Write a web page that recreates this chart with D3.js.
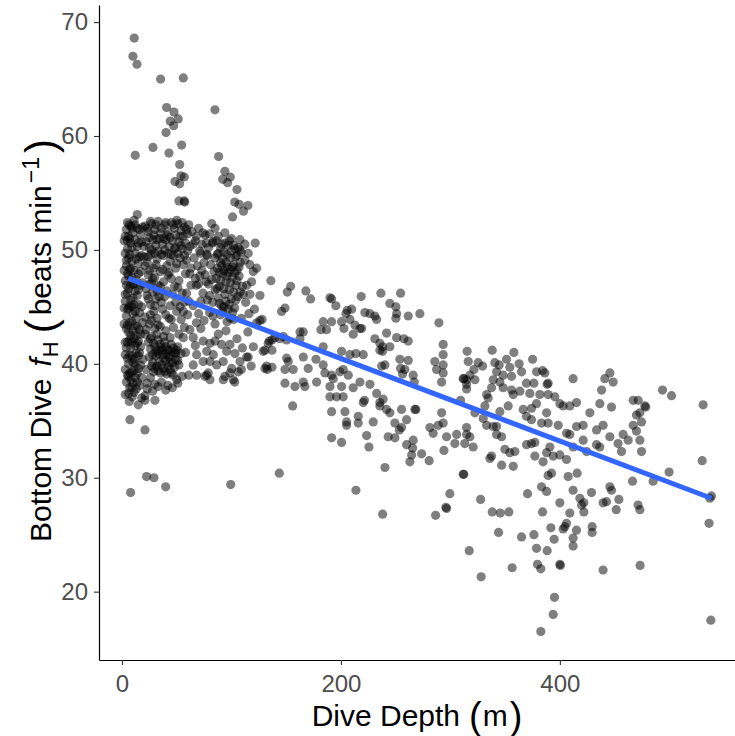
<!DOCTYPE html>
<html>
<head>
<meta charset="utf-8">
<script src="https://cdn.jsdelivr.net/npm/d3@7"></script>
<style>
  body { margin: 0; background: #fff; }
  svg { font-family: "Liberation Sans", Arial, sans-serif; }
  .tick text { fill: #4d4d4d; font-size: 24px; }
  .tick line { stroke: #333; stroke-width: 1.1; }
  .domain { stroke: #000; stroke-width: 1.2; }
</style>
</head>
<body>
<svg width="735" height="736"></svg>
<script>
// [dive depth (m), bottom dive heart rate (beats/min)]
var shallowTop = [[11.2,68.6],[10.0,67.0],[13.7,66.3],[35.3,65.0],[56.0,65.1],[40.8,62.5],[47.5,62.1],[51.4,61.5],[44.1,61.3],[47.2,60.9],[40.2,60.3],[84.9,62.3],[12.1,58.3],[28.3,59.0],[42.9,58.5],[54.5,59.2],[88.3,58.2],[52.7,57.5],[53.9,56.5],[56.9,56.4],[48.4,56.0],[52.7,55.8],[94.0,56.9],[92.0,56.2],[98.9,56.4],[96.5,55.9],[105.0,55.3],[52.0,54.3],[56.8,54.3],[57.3,54.2],[103.0,54.2],[107.0,54.0],[115.0,53.9],[101.0,52.9],[111.0,53.4],[14.0,53.1],[6.4,52.2]];

var shallowLow = [[7.3,35.1],[21.0,34.2],[22.5,30.1],[29.2,30.0],[39.9,29.2],[7.9,28.7],[99.3,29.4],[6.7,36.7],[14.9,36.4],[21.0,36.8],[30.1,36.8],[9.4,37.1],[21.0,37.2],[23,38.3],[28,37.6],[33,38.0],[40,37.7],[46,37.9],[51,38.3]];

var shallowLeft = [[4,51.8],[6,51.2],[8,50.6],[5,50.1],[10,51.5],[12,50.9],[7,49.6],[14,50.3],[9,49.0],[4,48.6],[11,48.2],[16,49.4],[6,47.7],[13,47.4],[8,46.9],[17,48.1],[5,46.2],[10,45.8],[15,46.5],[7,45.1],[12,44.6],[4,44.2],[9,43.7],[14,43.3],[6,42.8],[11,42.2],[3,41.9],[8,41.4],[13,40.9],[5,40.5],[10,40.1],[15,39.6],[7,39.2],[12,38.8],[4,38.4],[9,37.9],[16,38.1],[6,37.4],[18,37.0],[3,47.3],[18,45.0],[17,42.6],[19,40.4],[2,43.5],[16,51.8],[18,50.7],[3,49.7],[19,47.1],[5,52.4],[8,52.1],[11,52.6],[14,51.9],[7,51.0],[13,49.2],[10,47.0],[6,44.9],[14,41.8],[11,39.4],
  [3,45.5],[5,44.8],[8,45.6],[11,45.2],[13,44.0],[16,44.5],[4,43.1],[7,42.1],[10,42.9],[12,41.6],[15,42.0],[3,40.8],[6,40.0],[9,40.7],[11,40.4],[14,39.2],[17,39.9],[5,39.0],[8,38.6],[10,38.3],[13,37.8],[3,37.3],[7,37.9],[12,46.4],[9,47.6],[15,47.9],[4,46.9],[7,43.6],[16,41.0],[19,43.6],
  [2,48.2],[5,47.9],[8,48.4],[11,47.0],[14,46.0],[17,46.9],[3,46.1],[6,46.6],[9,45.0],[12,43.3],[15,45.2],[2,44.9],[5,43.4],[8,42.5],[10,44.4],[13,42.5],[16,43.0],[4,41.4],[7,40.7],[9,41.9],[12,40.0],[15,40.7],[3,39.5],[6,38.9],[9,39.3],[11,37.5],[14,38.4],[5,41.9],[17,41.5],[18,38.8]];

var shallowMid = [[21,52.1],[24,51.6],[27,52.3],[30,51.8],[33,52.5],[36,51.9],[39,52.2],[42,51.6],[45,52.4],[48,51.9],[51,52.3],[54,51.7],[57,52.0],[60,51.4],[22,50.7],[25,50.2],[28,50.9],[31,50.4],[34,51.0],[37,50.5],[40,50.9],[43,50.3],[46,50.8],[49,50.2],[52,50.7],[55,50.1],[58,50.6],[20,49.4],[23,48.9],[26,49.6],[32,49.2],[38,49.5],[44,49.0],[47,49.5],[50,48.8],[53,49.3],[56,48.7],[59,49.1],[62,50.3],[29,48.4],[35,48.1],[41,48.6],
  [3,51.2],[5,50.8],[9,51.9],[12,52.2],[15,50.6],[17,51.3],[19,52.0],[20,50.3],[23,51.9],[25,51.1],[26,52.5],[29,51.3],[31,52.2],[32,50.9],[35,51.5],[38,51.0],[40,52.4],[41,51.3],[44,51.1],[47,52.2],[49,51.3],[50,52.6],[53,51.2],[55,52.4],[56,51.2],[59,51.8],[61,52.2],[6,49.3],[9,50.2],[12,49.7],[15,48.8],[18,49.5],[21,48.6],[24,49.4],[27,50.0],[30,49.7],[33,49.9],[36,49.6],[39,50.0],[42,49.7],[45,49.6],[48,50.1],[51,49.7],[54,50.4],[57,49.5],[60,49.9],[25,48.2],[31,48.7],[37,48.3],[43,48.0],[49,48.4],[2,50.8],[4,49.1],[7,48.3],
  [24,47.8],[27,47.1],[30,47.6],[33,46.9],[28,46.3],[31,45.7],[26,45.2],[34,45.9],[29,44.6],[32,44.0],[25,43.5],[35,43.3],[38,47.2],[41,46.4],[37,44.8],[22,46.6],[45,47.5],[48,46.8],[52,47.3],[55,46.2],[58,47.9],[44,45.1],[50,44.6],[54,43.9],[57,45.4],[47,43.2],[60,44.3],[21,44.1],[40,42.9],[63,46.9],
  [23,46.0],[25,47.0],[26,44.3],[28,47.5],[30,45.1],[32,46.4],[33,43.4],[35,46.8],[36,45.4],[27,43.8],[30,43.1],[39,45.9],[40,44.3],[42,47.8],[43,44.0],[46,46.1],[49,45.4],[51,46.7],[53,45.0],[56,44.6],[59,46.2],[61,45.5],[52,42.6],[57,43.2],[45,43.9],[24,45.7],[22,43.0],
  [21,42.6],[24,41.9],[27,42.4],[30,41.5],[33,42.1],[36,41.4],[39,41.9],[42,41.2],[45,41.7],[48,41.0],[51,41.5],[25,40.6],[28,40.1],[31,40.7],[34,40.2],[37,40.8],[40,40.3],[43,40.6],[46,40.1],[49,40.4],[52,39.9],[29,39.3],[32,39.8],[35,39.2],[38,39.6],[41,39.1],[44,39.5],[47,39.0],[22,39.5],[26,38.8],[36,38.4],[50,38.6],[54,40.9],[56,42.3],[23,37.8],[30,38.2],[42,38.1],[55,38.9],
  [26,41.3],[29,41.8],[31,41.1],[33,40.9],[35,41.7],[37,41.2],[38,40.5],[40,41.5],[41,40.8],[43,41.2],[44,40.1],[45,40.8],[47,41.4],[48,39.7],[49,40.9],[50,41.2],[51,40.3],[27,39.8],[30,39.6],[33,39.4],[36,39.9],[39,39.3],[42,39.8],[45,39.2],[34,41.2],[28,40.8],[32,42.6],[44,42.3],[38,42.4],[26,42.2]];

var shallowRight = [[64,51.6],[67,50.8],[70,51.9],[73,50.5],[76,51.3],[79,50.2],[88,51.2],[91,50.5],[94,51.5],[97,50.4],[100,51.0],[103,50.1],[66,49.3],[69,48.6],[72,49.7],[75,48.9],[78,49.5],[81,48.7],[84,48.1],[87,49.6],[90,48.9],[93,49.8],[96,48.5],[99,49.3],[102,48.7],[105,49.5],[108,48.9],[86,47.5],[89,46.8],[92,47.9],[95,47.2],[98,46.5],[101,47.6],[104,46.9],[107,47.7],[88,45.8],[91,45.1],[94,46.1],[97,44.8],[100,45.7],[103,44.9],[106,45.9],[90,44.3],[96,43.7],[102,43.9],[68,46.9],[71,47.7],[74,46.2],[77,47.2],[80,46.0],[83,45.4],[65,45.1],[70,44.4],[75,43.8],[80,44.5],[85,43.5],[62,43.0],[110,46.8],[113,45.4],[109,44.0],[116,44.4],[82,52.3],[85,51.9],[62,47.9],
  [86,50.8],[88,49.7],[90,50.2],[92,49.2],[94,50.6],[96,49.6],[98,50.8],[100,49.9],[102,50.4],[104,49.4],[106,50.2],[109,49.8],[87,48.4],[89,48.0],[91,48.6],[93,48.2],[95,48.9],[97,48.0],[99,48.3],[101,48.5],[103,48.0],[105,48.2],[107,48.5],[87,46.6],[90,47.3],[93,46.6],[96,47.7],[99,47.1],[102,46.3],[105,47.3],[108,46.3],[89,45.3],[92,44.6],[95,45.5],[98,45.2],[101,44.5],[104,45.6],[99,44.0],[93,45.0],[65,50.5],[68,51.2],[71,49.9],[74,51.5],[77,50.6],[80,51.4],[83,50.7],[63,48.4],[67,47.5],[70,47.0],[73,48.2],[76,47.8],[79,47.0],[82,47.4],[85,46.5],[72,45.5],[78,45.6],[83,44.2],[68,43.6],
  [88,42.6],[95,42.9],[105,42.2],[110,41.4],[85,42.0],[72,43.1],[67,41.6],[58,41.0],[61,39.0],[115,42.8],[120,41.5],[118,39.8],
  [107.8,50.9],[112.3,50.5],[121.7,50.6],[107.8,50.0],[115.3,49.7],[112.3,49.1],[82.8,50.6],[77.4,49.6],[84.9,49.3],[116.9,48.7],[119.9,48.1],[118.4,47.2],[113.9,46.9],[116.9,46.1],[110.8,46.1],[123,48.4],[126,46.0],[121,44.8],[128,43.9],
  [126,43.8],[123,43.6],[134.5,42.0],[130.6,41.2],[129,41.1],[132.1,39.8],[132.7,39.5],[113.9,40.6],[107.8,40.2],[103.2,40.9],[95.6,41.1],[92.5,40.2],[100.2,39.6],[106.2,39.3],[98.6,39.2],[83.4,40.8],[77.4,41.1],[80.4,40.2],[86.5,39.9],[74.2,40.2],[68.2,40.8],[65.1,39.9],[68.2,39.0],[77.4,39.0],[80.4,38.6],[92.5,38.6],[101.6,38.6],[91,41.7],[98.6,41.7],[80.4,41.8],[74.2,42.0],[65.1,42.3],
  [78.8,39.2],[75.8,38.9],[94,38.9],[103,38.4],[109,39.5],[115.3,40.6],[133.6,41.8],[130.6,39.6]];

var midDepth = [[136,47.3],[145.8,44.6],[139.7,42.3],[147.3,42.4],[154.1,46.8],[151,46.3],[168,46.4],[172.3,45.7],[148.9,44.9],[137,42.1],[137,41.2],[137,39.7],
  [190,45.8],[191.5,45.7],[195.4,45.1],[205.8,44.7],[204.6,44.4],[209.8,44.8],[218.5,45.9],[221.9,44.5],[226.5,44.4],[231,44.2],[232.6,43.9],[236.5,46.2],[254.5,46.2],[244.7,45.3],[250.2,45.0],[250.2,44.0],[250.9,44.4],[261.5,44.2],[272.1,44.4],[289.5,43.6],
  [183.8,43.7],[191.5,43.7],[200.6,43.7],[208.2,43.9],[212.8,43.4],[217.4,43.1],[181.7,43.0],[186.9,43.0],[202.7,43.1],[211.2,42.6],[218.9,43.1],
  [162.6,42.8],[165.6,42.8],[162.6,42.2],[144.3,42.2],[150.4,42.1],
  [183.8,41.5],[200.6,41.1],[208.2,40.8],[213.7,40.9],[220.4,40.8],
  [231,42.2],[235.6,41.8],[238.1,41.5],[241.7,42.7],[250.9,42.3],[257.5,42.2],[261.5,42.0],[238.1,41.1],[235.6,41.2],[244.7,41.5],
  [150.4,40.5],[151.9,40.2],[156.4,39.5],[148.9,39.5],[165.6,40.6],[177.2,40.4],[183.8,39.9],[185.4,39.2],[191.5,39.0],[193,38.7],
  [170.1,39.6],[177.8,38.4],[165.6,38.4],[167.1,38.0],[158,38.0],[148.9,38.3],
  [199.1,39.3],[202.1,39.5],[206.7,39.0],[237.2,39.8],[240.2,39.9],
  [253.9,40.4],[261.5,40.3],[254.5,39.6],[258.4,39.5],[256.3,39.1],[266,39.0],[267,38.4],
  [285.8,40.2],[287.4,39.5],[293.4,39.9],[293.4,40.8],[293.4,41.7],[293.4,39.2],[292,38.4],
  [190,38.0],[200.6,38.0],[211.2,37.9],[217.4,38.4],[226.5,38.2],[232.6,37.4],[235.6,36.6],[238.6,36.9],[220.4,36.6],[221.5,36.8],
  [190,37.1],[196,37.1],[202.1,37.1],
  [235.6,36.3],[241.7,36.0],[255.4,36.0],[267.6,36.0],[244.7,35.7],[155.9,36.3],
  [191.5,35.8],[203.7,35.8],[215.8,35.4],[205.2,34.9],[215.8,34.8],[205.2,34.6],[229.5,34.9],
  [249.3,34.8],[253.3,34.2],[255.4,34.4],[260,35.1],[268.5,36.0],[281.3,34.4],[284.3,33.9],[288.9,34.6],[293.4,34.8],[292,35.7],
  [191.5,33.5],[200.6,33.1],[223.5,33.7],[243.2,33.6],[249.3,33.5],[266,33.3],[260,32.9],[296.5,33.6],
  [143.7,30.4],[213.7,28.9],[238.1,26.8],[240.2,30.9],[225.6,32.7],
  [263,31.4],[264.6,32.0],[265.5,32.6],[273.7,32.1],[280.6,31.5],[294.1,32.4],[299.5,28.6],[296.5,27.3],[286.5,26.7],[295.9,27.4]];

var deepDives = [[305.7,33.8],[304.1,33.0],[313.2,33.0],[314.8,33.8],[311.7,38.7],[314.8,38.2],[317.8,39.0],[311.7,30.3],[317.2,23.6],
  [315.3,41.1],[338.2,41.2],[358,41.0],[316.3,40.2],[325.4,40.1],[321.5,39.5],[329.4,39.8],
  [340.6,40.1],[344.6,39.9],[351.3,40.4],[354.3,39.7],[362.8,40.0],[342.2,39.3],[348.2,39.0],[355.9,38.9],[365,39.3],[375.1,40.4],[384.2,39.4],[386.3,39.2],
  [312.3,38.7],[314.8,38.6],[322.4,38.6],[314.8,37.8],[339.1,38.6],[345.2,38.4],[337.6,37.9],[348.2,37.9],[355.9,37.7],[357.4,37.3],[363.5,37.6],[369.5,38.3],[376.3,38.3],[388.4,38.2],[389.3,37.3],[372.6,37.4],[381.7,37.3],[395.4,37.1],
  [333.1,37.3],[334.5,37.0],[331.5,36.3],[322.4,35.7],[330,35.2],[333.1,34.6],[342.2,34.5],[352.8,36.3],[345.2,35.8],[366.5,36.0],[374.1,36.1],[369.5,35.4],[374.1,35.1],[378.7,36.5],[387.9,35.7],[383.3,34.8],[389.3,34.8],[400,36.5],[403,36.3],[409.1,36.3],[415.2,36.6],[427.4,35.7],[436.5,36.5],[447.2,36.2],[445.7,39.2],[448.7,38.4],[441.1,38.7],[438.1,37.7],[467,36.8],[471.5,36.8],[477.6,36.3],[470,35.5],[474.6,34.9],
  [412.1,38.7],[378.7,39.3],[389.3,38.3],[309.3,36.8],
  [314.8,34.4],[317.8,33.6],[320.8,32.7],[339.1,34.5],
  [342.2,33.8],[346.8,33.6],[349.8,32.5],[354.3,32.2],[358.9,32.3],[336.1,31.7],[337.6,31.9],[346.8,31.1],[357.4,31.0],[369.5,32.9],[374.1,33.0],[377.2,33.1],[390.9,32.7],[398.5,34.6],[406.1,33.9],[409.1,33.8],[415.2,34.5],[421.3,34.6],[421.3,33.3],[433.5,34.2],[439.5,34.6],[445.7,33.6],[453.2,33.0],[457.8,33.8],[462.4,33.3],[467,34.6],[470,34.1],[473.1,33.3],[474.6,32.3],[456.3,32.3],[436.5,32.7],[433.5,32.9],[424.4,32.3],[412.1,32.7],[400,32.0],[406.1,31.6],[393.9,31.9],[387.9,32.2],[377.2,31.9],[384.7,31.4],
  [312.3,30.3],[327.6,28.1],[370.5,28.6],[383.3,29.2],[387.9,28.8],[392.4,30.4],[389.3,30.2],[407.6,30.1],[415.8,30.4],[412.1,28.9],[418.3,28.2],[421.9,27.8],[428.9,28.7],[400,27.8],[445.7,29.2],[447.2,28.9],[442.6,27.9],[439.5,27.8],[453.9,28.1],[451.5,27.2],[471.5,27.6],[473.1,27.2],[466.4,29.7],[485.2,29.7],
  [338.2,27.0],[345.5,26.9],[353.4,27.0],[384.2,27.0],[409.1,26.9],[421.9,27.0],[419.8,27.6],[536.3,26.0],[537.9,17.5],[328.1,21.3],[344,25.2],[365,24.8],[376.3,25.0],[378.7,23.8],[388.4,23.6],[391.8,25.6],[394.8,24.6],[406.1,26.0],[404.6,25.7],[403,25.5],[415.2,25.4],[412.1,24.7],[412.1,24.0],[429.5,25.7],[429.5,25.2],[356.4,22.1],[379.6,22.4],[382.6,22.0],[400,22.4],[400.5,22.3],[439.5,21.9],[473.3,22.3],[395.1,19.5],[393.9,18.0],[382.6,16.5],
  [493.8,37.7],[502,37.2],[530.9,36.4],[478.5,36.2],[473.1,35.7],[530,31.5],[499.8,30.5],[538.5,28.4],[537,28.2]];

// linear fit (geom_smooth, method = lm) end points
var fitDepth = [5.8, 538.5];
var fitRate = [47.5, 28.2];

var xTicks = [0, 200, 400];
var yTicks = [20, 30, 40, 50, 60, 70];

(function (d3) {
  'use strict';

  var svg = d3.select("svg");
  var width = +svg.attr("width");
  var height = +svg.attr("height");
  var margin = { top: 5, right: 0, bottom: 76, left: 99 };
  var innerWidth = width - margin.left - margin.right;
  var innerHeight = height - margin.top - margin.bottom;

  var data = shallowTop.concat(shallowLow, shallowLeft, shallowMid, shallowRight, midDepth, deepDives);

  // scales
  var xScale = d3.scaleLinear().domain([-21, 560]).range([0, innerWidth]);
  var yScale = d3.scaleLinear().domain([14, 71.5]).range([innerHeight, 0]);

  var g = svg.append("g")
    .attr("transform", "translate(" + margin.left + "," + margin.top + ")");

  // points
  g.append("g").selectAll("circle")
    .data(data)
    .join("circle")
    .attr("cx", function (d) { return xScale(d[0]); })
    .attr("cy", function (d) { return yScale(d[1]); })
    .attr("r", 4.6)
    .attr("fill", "#000")
    .attr("fill-opacity", 0.5);

  // fitted line
  var lineGenerator = d3.line()
    .x(function (d) { return xScale(d[0]); })
    .y(function (d) { return yScale(d[1]); });

  g.append("path")
    .attr("d", lineGenerator(d3.zip(fitDepth, fitRate)))
    .attr("fill", "none")
    .attr("stroke", "#3366ff")
    .attr("stroke-width", 5);

  // axes
  var xAxis = d3.axisBottom(xScale).tickValues(xTicks).tickSize(5).tickSizeOuter(0).tickPadding(10);
  var yAxis = d3.axisLeft(yScale).tickValues(yTicks).tickSize(5).tickSizeOuter(0).tickPadding(6);

  g.append("g")
    .attr("transform", "translate(0," + innerHeight + ")")
    .call(xAxis)
    .selectAll("text").attr("font-family", null).attr("font-size", null);

  g.append("g")
    .call(yAxis)
    .selectAll("text").attr("font-family", null).attr("font-size", null);

  // x axis title
  var xTitle = svg.append("text")
    .attr("x", margin.left + innerWidth / 2)
    .attr("y", 726)
    .attr("text-anchor", "middle")
    .attr("font-size", 30)
    .attr("fill", "#000");
  xTitle.append("tspan").text("Dive Depth");
  xTitle.append("tspan").attr("font-size", 38).attr("dx", 9).attr("dy", 3).text("(");
  xTitle.append("tspan").attr("dx", 1).attr("dy", -3).text("m");
  xTitle.append("tspan").attr("font-size", 38).attr("dx", 2).attr("dy", 3).text(")");

  // y axis title
  var yTitle = svg.append("text")
    .attr("transform", "translate(51," + (margin.top + innerHeight / 2 + 8) + ") rotate(-90)")
    .attr("text-anchor", "middle")
    .attr("font-size", 30)
    .attr("fill", "#000");
  yTitle.append("tspan").text("Bottom Dive");
  yTitle.append("tspan").attr("font-style", "italic").attr("dx", 12).text("f");
  yTitle.append("tspan").attr("font-size", 22).attr("dx", 1).attr("dy", 7).text("H");
  yTitle.append("tspan").attr("font-size", 42).attr("dx", 8).attr("dy", -3).text("(");
  yTitle.append("tspan").attr("dx", 4).attr("dy", -4).text("beats min");
  yTitle.append("tspan").attr("font-size", 23).attr("dx", 2).attr("dy", -12).text("\u22121");
  yTitle.append("tspan").attr("font-size", 42).attr("dx", 4).attr("dy", 16).text(")");

}(d3));
</script>
</body>
</html>
